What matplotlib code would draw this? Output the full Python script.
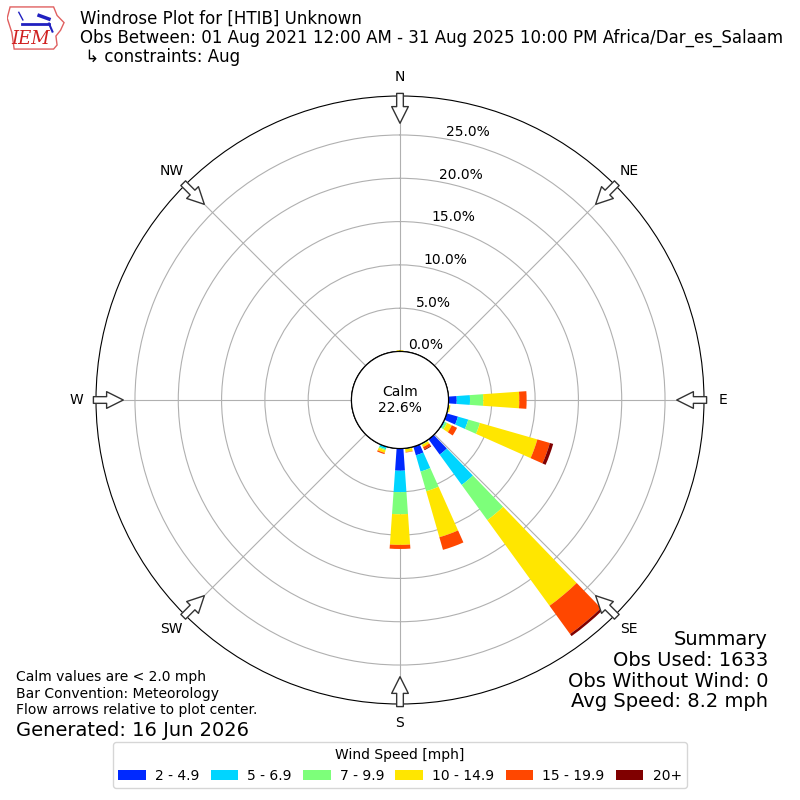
import numpy as np
import matplotlib.pyplot as plt
from matplotlib.patches import Polygon

# wind directions (deg) that have observations, and the share (%) per speed bin
directions = [0, 90, 100, 110, 120, 140, 150, 160, 170, 180, 200]
speed_labels = ['2 - 4.9', '5 - 6.9', '7 - 9.9', '10 - 14.9', '15 - 19.9', '20+']
pct_2_5 = [0.00, 0.95, 0.03, 1.36, 0.10, 2.19, 0.05, 1.04, 0.00, 2.57, 0.05]
pct_5_7 = [0.00, 1.53, 0.03, 1.24, 0.10, 4.33, 0.05, 1.96, 0.05, 2.47, 0.25]
pct_7_10 = [0.05, 1.53, 0.04, 1.40, 0.25, 5.02, 0.05, 2.36, 0.05, 2.55, 0.15]
pct_10_15 = [0.10, 4.16, 0.15, 6.90, 0.61, 12.23, 0.30, 5.52, 0.35, 3.54, 0.30]
pct_15_20 = [0.00, 0.85, 0.00, 1.50, 0.67, 4.03, 0.30, 1.52, 0.05, 0.47, 0.15]
pct_20_up = [0.00, 0.00, 0.00, 0.40, 0.00, 0.30, 0.10, 0.00, 0.00, 0.00, 0.00]
series = [pct_2_5, pct_5_7, pct_7_10, pct_10_15, pct_15_20, pct_20_up]

calm_pct = 22.6
rticks = [0, 5, 10, 15, 20, 25]
compass = ['N', 'NE', 'E', 'SE', 'S', 'SW', 'W', 'NW']

colors = plt.cm.jet(np.linspace(0, 1, 7)[1:])

fig = plt.figure(figsize=(8, 8), dpi=100)
ax = fig.add_axes([0.12, 0.12, 0.76, 0.76], projection='polar')
ax.set_theta_zero_location('N')
ax.set_theta_direction(-1)
rmax = 29.5
ax.set_ylim(0, rmax)
ax.set_rorigin(-5.6)
ax.set_axisbelow(True)

theta = np.radians(directions)
bottom = np.zeros(len(directions))
handles = []
for vals, color, label in zip(series, colors, speed_labels):
    b = ax.bar(theta, vals, width=np.radians(8), bottom=bottom, color=color,
               label=label, linewidth=0, zorder=2)
    handles.append(b)
    bottom += np.array(vals)

ax.grid(color='#b0b0b0', lw=0.8)
ax.set_yticks(rticks)
ax.set_yticklabels([])
for r in rticks:
    ax.text(np.radians(10), r, '%.1f%%' % r, ha='left', va='bottom', fontsize=10)

ax.set_xticks(np.radians(np.arange(0, 360, 45)))
ax.set_xticklabels(compass, fontsize=10)
ax.tick_params(axis='x', pad=3.5)

# calm circle
circ = np.linspace(0, 2 * np.pi, 361)
ax.plot(circ, np.zeros_like(circ), color='k', lw=1, zorder=3)
ax.text(0.5, 0.5, 'Calm\n%.1f%%' % calm_pct, transform=ax.transAxes,
        ha='center', va='center', fontsize=10)

# flow arrows
for ang in np.arange(0, 360, 45):
    ax.annotate('', xy=(np.radians(ang), rmax - 3.15), xytext=(np.radians(ang), rmax + 0.3),
                arrowprops=dict(arrowstyle='simple,head_length=0.6,head_width=0.6,tail_width=0.24',
                                fc='white', ec='#333333', lw=1, mutation_scale=20,
                                shrinkA=0, shrinkB=0),
                annotation_clip=False, zorder=5)

fig.legend(handles, speed_labels, loc='lower center', bbox_to_anchor=(0.5, 0.006),
           ncol=6, title='Wind Speed [mph]', fontsize=10, title_fontsize=10,
           columnspacing=0.8, handletextpad=0.65)

fig.text(0.1, 1 - 24 / 800, 'Windrose Plot for [HTIB] Unknown', va='baseline', fontsize=12)
fig.text(0.1, 1 - 43 / 800,
         'Obs Between: 01 Aug 2021 12:00 AM - 31 Aug 2025 10:00 PM Africa/Dar_es_Salaam',
         va='baseline', fontsize=12)
fig.text(0.1, 1 - 62.5 / 800, ' \u21b3 constraints: Aug', va='baseline', fontsize=12)

fig.text(0.02, 0.162, 'Calm values are < 2.0 mph\nBar Convention: Meteorology\n'
         'Flow arrows relative to plot center.', va='top', fontsize=10)
fig.text(0.02, 0.0875, 'Generated: 16 Jun 2026', va='center', fontsize=14)
fig.text(0.96, 0.2125, 'Summary\nObs Used: 1633\nObs Without Wind: 0\nAvg Speed: 8.2 mph',
         ha='right', va='top', fontsize=14, linespacing=1.12)

# rough IEM logo
lax = fig.add_axes([0.009, 0.937, 0.0725, 0.056])
lax.set_xlim(0, 1)
lax.set_ylim(0, 1)
lax.axis('off')
iowa = [(0.05, 0.97), (0.8, 0.97), (0.86, 0.78), (0.98, 0.62), (0.92, 0.45),
        (0.84, 0.32), (0.86, 0.12), (0.8, 0.03), (0.12, 0.03), (0.08, 0.4), (0.0, 0.72)]
lax.add_patch(Polygon(iowa, closed=True, fill=False, ec='#e06060', lw=1))
lax.plot([0.25, 0.72], [0.6, 0.6], color='#2020c0', lw=2)
lax.plot([0.72, 0.78], [0.6, 0.42], color='#2020c0', lw=1.5)
lax.plot([0.2, 0.27], [0.85, 0.68], color='#2020c0', lw=1)
lax.plot([0.55, 0.72], [0.78, 0.7], color='#2020c0', lw=2.5)
lax.text(0.41, 0.25, 'IEM', color='#d02020', fontsize=13, family='serif',
         style='italic', ha='center', va='center')

fig.savefig('out.png', dpi=100)
